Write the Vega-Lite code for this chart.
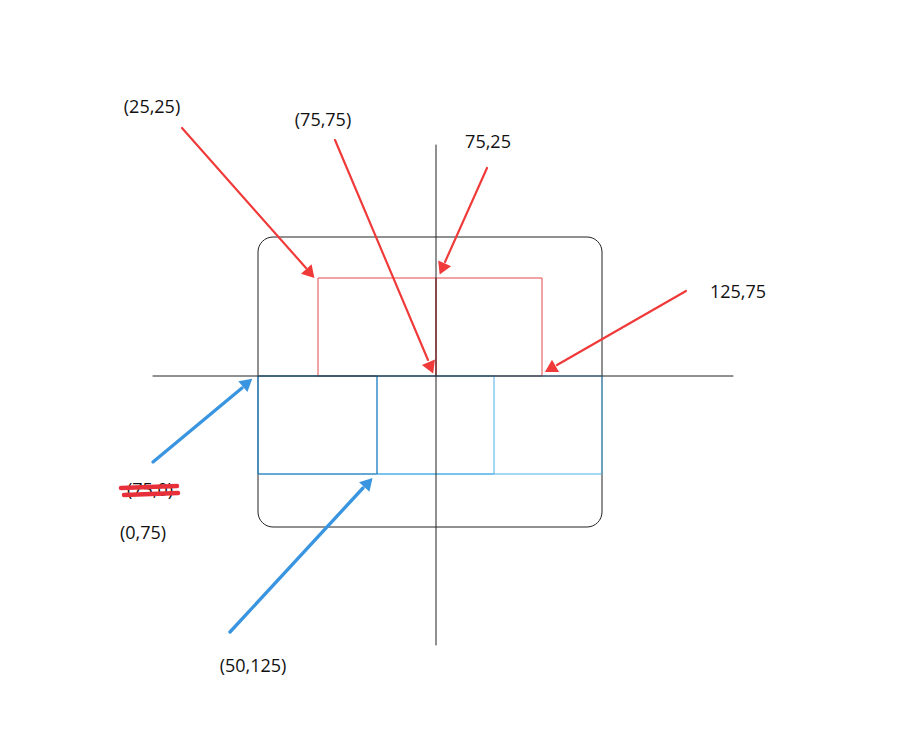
{
  "$schema": "https://vega.github.io/schema/vega-lite/v6.json",
  "width": 902,
  "height": 755,
  "autosize": "none",
  "padding": 0,
  "background": "white",
  "config": {"view": {"stroke": null}},
  "datasets": {
    "frame": [
      {"x": 258, "x2": 602, "y": 237, "y2": 527}
    ],
    "boxes": [
      {"x": 318, "x2": 436, "y": 278, "y2": 376, "kind": "red"},
      {"x": 436, "x2": 542, "y": 278, "y2": 376, "kind": "red"},
      {"x": 258, "x2": 602, "y": 376, "y2": 474, "kind": "blue"},
      {"x": 377, "x2": 494, "y": 376, "y2": 474, "kind": "blue"},
      {"x": 258, "x2": 377, "y": 376, "y2": 474, "kind": "darkblue"}
    ],
    "lines": [
      {"x": 153, "x2": 733, "y": 376, "y2": 376, "kind": "axis"},
      {"x": 436, "x2": 436, "y": 145, "y2": 645, "kind": "axis"},
      {"x": 182, "x2": 306, "y": 128, "y2": 268, "kind": "red"},
      {"x": 335, "x2": 428, "y": 140, "y2": 360, "kind": "red"},
      {"x": 487, "x2": 445, "y": 168, "y2": 262, "kind": "red"},
      {"x": 686, "x2": 557, "y": 291, "y2": 365, "kind": "red"},
      {"x": 153, "x2": 242, "y": 462, "y2": 388, "kind": "blue"},
      {"x": 230, "x2": 363, "y": 632, "y2": 488, "kind": "blue"},
      {"x": 121, "x2": 177, "y": 488, "y2": 486, "kind": "scribble"},
      {"x": 124, "x2": 178, "y": 495, "y2": 493, "kind": "scribble"}
    ],
    "heads": [
      {"x": 309, "y": 272, "a": 138.5, "kind": "red"},
      {"x": 430, "y": 366, "a": 157, "kind": "red"},
      {"x": 443, "y": 267, "a": 204, "kind": "red"},
      {"x": 552, "y": 368, "a": 240, "kind": "red"},
      {"x": 246, "y": 384, "a": 50, "kind": "blue"},
      {"x": 367, "y": 484, "a": 42.6, "kind": "blue"}
    ],
    "labels": [
      {"x": 152, "y": 108, "t": "(25,25)"},
      {"x": 323, "y": 121, "t": "(75,75)"},
      {"x": 488, "y": 143, "t": "75,25"},
      {"x": 738, "y": 293, "t": "125,75"},
      {"x": 150, "y": 491, "t": "(75,0)"},
      {"x": 143, "y": 534, "t": "(0,75)"},
      {"x": 253, "y": 667, "t": "(50,125)"}
    ]
  },
  "encoding": {
    "x": {"field": "x", "type": "quantitative", "scale": {"domain": [0, 902], "nice": false, "zero": false}, "axis": null},
    "y": {"field": "y", "type": "quantitative", "scale": {"domain": [0, 755], "nice": false, "zero": false, "reverse": true}, "axis": null}
  },
  "layer": [
    {
      "data": {"name": "labels"},
      "mark": {"type": "text", "font": "Open Sans", "fontSize": 18, "color": "#111"},
      "encoding": {"text": {"field": "t"}}
    },
    {
      "data": {"name": "frame"},
      "mark": {"type": "rect", "filled": false, "stroke": "#222222", "strokeWidth": 1, "cornerRadius": 15},
      "encoding": {"x2": {"field": "x2"}, "y2": {"field": "y2"}}
    },
    {
      "data": {"name": "boxes"},
      "mark": {"type": "rect", "filled": false, "strokeWidth": 1},
      "encoding": {
        "x2": {"field": "x2"},
        "y2": {"field": "y2"},
        "stroke": {"field": "kind", "type": "nominal", "legend": null,
          "scale": {"domain": ["red", "blue", "darkblue"], "range": ["#e8474a", "#4db0e6", "#2a78b8"]}}
      }
    },
    {
      "data": {"name": "lines"},
      "mark": {"type": "rule", "strokeCap": "round"},
      "encoding": {
        "x2": {"field": "x2"},
        "y2": {"field": "y2"},
        "color": {"field": "kind", "type": "nominal", "legend": null,
          "scale": {"domain": ["axis", "red", "blue", "scribble"], "range": ["#222222", "#f03a3a", "#3a95e0", "#e8303a"]}},
        "strokeWidth": {"field": "kind", "type": "nominal", "legend": null,
          "scale": {"domain": ["axis", "red", "blue", "scribble"], "range": [1, 4.5, 4.5, 6]}}
      }
    },
    {
      "data": {"name": "heads"},
      "mark": {"type": "point", "shape": "triangle", "filled": true, "size": 200, "opacity": 1},
      "encoding": {
        "angle": {"field": "a", "type": "quantitative", "scale": null},
        "color": {"field": "kind", "type": "nominal", "legend": null,
          "scale": {"domain": ["red", "blue"], "range": ["#f03a3a", "#3a95e0"]}}
      }
    }
  ],
  "resolve": {"scale": {"color": "independent", "stroke": "independent"}}
}
